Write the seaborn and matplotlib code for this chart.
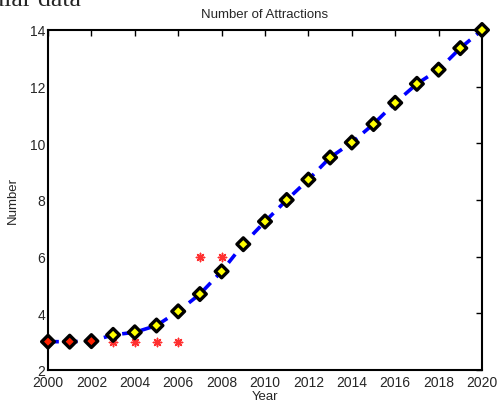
import matplotlib
matplotlib.use("Agg")
import matplotlib.pyplot as plt
import seaborn as sns
import pandas as pd

years = list(range(2000, 2021))
fitted = [3.0, 3.0, 3.02, 3.24, 3.33, 3.57, 4.07, 4.68, 5.48, 6.44, 7.24,
          8.0, 8.72, 9.5, 10.03, 10.68, 11.43, 12.1, 12.6, 13.36, 14.0]
obs_years = [2000, 2001, 2002, 2003, 2004, 2005, 2006, 2007, 2008]
obs_values = [3, 3, 3, 3, 3, 3, 3, 6, 6]
known_years = [2000, 2001, 2002]

df = pd.DataFrame({"Year": years, "Number": fitted})
df["kind"] = ["known" if y in known_years else "est" for y in years]
obs = pd.DataFrame({"Year": obs_years, "Number": obs_values})

sns.set_style("white")
plt.rcParams["font.family"] = ["Liberation Sans", "DejaVu Sans"]

fig = plt.figure(figsize=(4.97, 4.06), dpi=100)
ax = fig.add_axes([48 / 497, 1 - 371 / 406, 434 / 497, 340 / 406])

sns.lineplot(data=df, x="Year", y="Number", ax=ax, color="#0000ff",
             linewidth=2.6, dashes=False, zorder=2)
ax.lines[-1].set_linestyle((0, (3, 2.2)))

# observed counts drawn as eight-armed asterisks
sns.scatterplot(data=obs, x="Year", y="Number", ax=ax, marker=(8, 2, 0),
                color="#ff3030", s=35, linewidth=1.1, edgecolor="#ff3030",
                zorder=3)

sns.scatterplot(data=df, x="Year", y="Number", hue="kind", ax=ax,
                palette={"known": "#ff2200", "est": "#ffff00"},
                marker="D", s=42, edgecolor="black", linewidth=2.4,
                legend=False, zorder=4, clip_on=False)

ax.set_xlim(2000, 2020)
ax.set_ylim(2, 14)
ax.set_xticks(range(2000, 2021, 2))
ax.set_yticks(range(2, 15, 2))
ax.tick_params(direction="in", top=True, right=True, length=4, width=1,
               labelsize=10, color="black")
ax.tick_params(axis="x", pad=3.5)
ax.tick_params(axis="y", pad=2)
for s in ax.spines.values():
    s.set_visible(True)
    s.set_color("black")
    s.set_linewidth(1.5)

ax.set_xlabel("Year", fontsize=9.5, labelpad=1)
ax.set_ylabel("Number", fontsize=9.5, labelpad=8)
ax.set_title("Number of Attractions", fontsize=9.5, pad=9)

fig.text(-0.095, 1.027, "Tabular data", fontsize=18.5,
         family=["Liberation Serif", "DejaVu Serif"], va="top", ha="left")

fig.savefig("out.png", dpi=100)
